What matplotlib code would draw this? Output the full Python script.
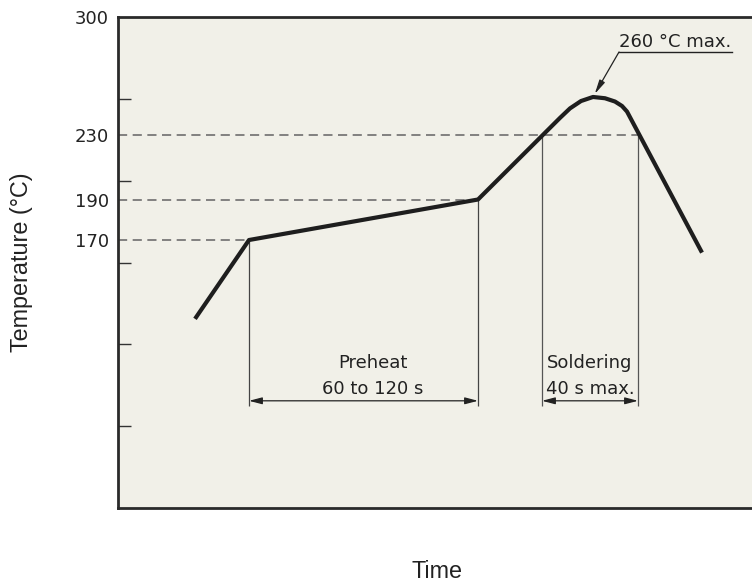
import matplotlib
matplotlib.use('Agg')
import matplotlib.pyplot as plt
import numpy as np

# Profilo di rifusione (schema): tempo in s (schematico), temperatura in °C
profile_time = [38.5, 65.5, 180, 221, 226, 231.5, 237.5, 243.5, 248.5, 252, 254.5, 292]
profile_temp = [120, 170, 190, 243.5, 251, 256.8, 260, 259, 256.4, 252.9, 248.5, 162]

# livelli di riferimento e dove finiscono le linee tratteggiate
ref_levels = [170, 190, 230]
ref_ends = [65.5, 180, 260]

# intervalli quotati
preheat = (65.5, 180)
soldering = (212, 260)
dim_temp = 68
dim_low = 65
peak = (237.5, 260)

ytick_vals = [170, 190, 230, 300]

# asse y schematico (non lineare, come nel disegno originale)
axis_temps = [0, 170, 190, 230, 260, 300]
axis_frac = [0.0, 0.5458, 0.6283, 0.7597, 0.8371, 1.0]


def fwd(v):
    return np.interp(v, axis_temps, axis_frac)


def inv(f):
    return np.interp(f, axis_frac, axis_temps)


bg = '#f1f0e8'
ink = '#1e1e1e'

fig = plt.figure(figsize=(7.52, 5.85), dpi=100)
ax = fig.add_axes([118 / 752, 77 / 585, 638 / 752, 491 / 585])
ax.set_facecolor(bg)
ax.set_yscale('function', functions=(fwd, inv))
ax.set_xlim(0, 319)
ax.set_ylim(0, 300)

# linee di riferimento
ax.hlines(ref_levels, 0, ref_ends, colors='#636363', linewidth=1.1,
          linestyles=(0, (6, 3.6)), zorder=2)
ax.vlines([preheat[0], preheat[1]], [170, 190], dim_low, colors='#444444',
          linewidth=0.9, zorder=2)
ax.vlines([soldering[0], soldering[1]], 230, dim_low, colors='#555555',
          linewidth=0.9, zorder=2)

# curva
ax.plot(profile_time, profile_temp, color=ink, linewidth=3,
        solid_joinstyle='round', solid_capstyle='butt', zorder=4)

# frecce di quota
arrow = dict(arrowstyle='<|-|>,head_length=0.65,head_width=0.17', color='#222222',
             lw=0.9, shrinkA=0, shrinkB=0, mutation_scale=12)
for span in (preheat, soldering):
    ax.annotate('', xy=(span[0], dim_temp), xytext=(span[1], dim_temp),
                arrowprops=arrow, zorder=3)

txt = dict(fontsize=13, color='#222222', ha='center', va='center')
ax.text(127.5, 92, 'Preheat', **txt)
ax.text(127.5, 75.5, '60 to 120 s', **txt)
ax.text(236, 92, 'Soldering', **txt)
ax.text(236, 75.5, '40 s max.', **txt)

# annotazione picco
ax.plot([250.5, 307], [282.5, 282.5], color='#222222', linewidth=1.0)
ax.annotate('', xy=peak, xytext=(250.5, 282.5),
            arrowprops=dict(arrowstyle='-|>,head_length=0.7,head_width=0.15',
                            color='#222222', lw=0.9, shrinkA=0, shrinkB=2.5,
                            mutation_scale=12))
ax.text(250.6, 285, '260 °C max.', fontsize=13, color='#222222',
        ha='left', va='baseline')

# assi
ax.set_xticks([])
ax.set_yticks(ytick_vals)
ax.set_yticklabels([str(v) for v in ytick_vals], fontsize=13, color='#222222')
ax.tick_params(axis='y', which='major', length=0, pad=6.5)
ax.set_yticks(inv(np.arange(1, 6) / 6), minor=True)
ax.tick_params(axis='y', which='minor', direction='in', length=9,
               width=1.0, color='#333333')
ax.yaxis.set_minor_formatter(plt.NullFormatter())

for side in ('left', 'top', 'bottom'):
    ax.spines[side].set_linewidth(2)
    ax.spines[side].set_color('#2a2a2a')
ax.spines['right'].set_visible(False)

ax.set_xlabel('Time', fontsize=16.8, family='Liberation Sans', color='#222222',
              va='center')
ax.xaxis.set_label_coords(0.5, -0.130)
ax.set_ylabel('Temperature (°C)', fontsize=16.8, family='Liberation Sans',
              color='#222222', va='center')
ax.yaxis.set_label_coords(-0.1505, 0.5)

fig.savefig('out.png', dpi=100, facecolor='white')
